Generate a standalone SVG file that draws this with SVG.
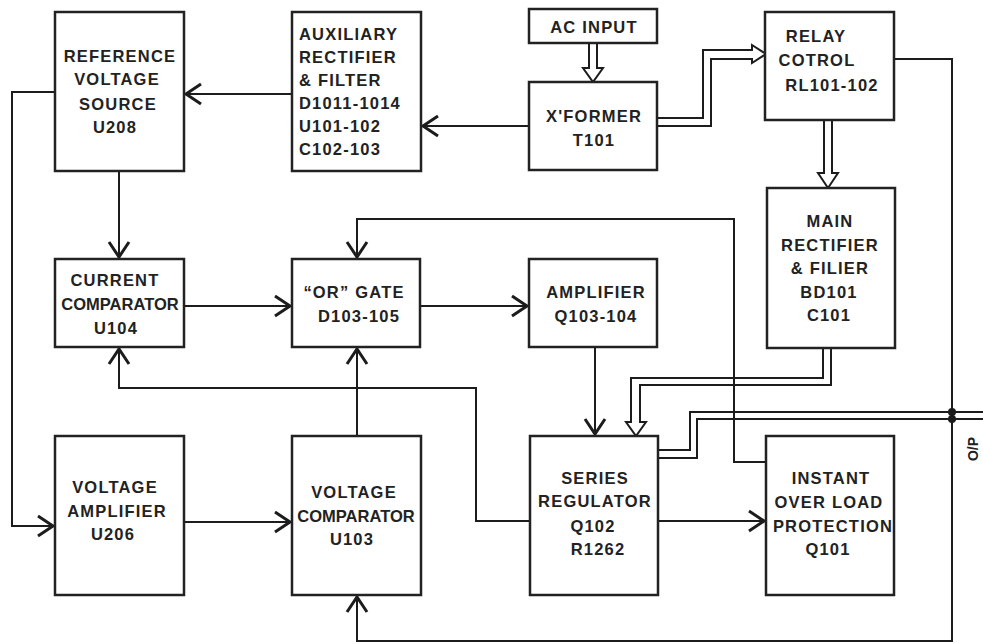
<svg xmlns="http://www.w3.org/2000/svg" width="983" height="644" viewBox="0 0 983 644">
<style>
.box{fill:#fff;stroke:#222;stroke-width:2.5}
.ln{fill:none;stroke:#1c1c1c;stroke-width:2}
.hl{fill:#fff;stroke:#1c1c1c;stroke-width:2;stroke-linejoin:miter}
.t{font-family:"Liberation Sans",Arial,sans-serif;font-weight:bold;font-size:16.5px;fill:#222;letter-spacing:1.2px;text-anchor:middle}
.l{text-anchor:start}
.n{letter-spacing:0}
</style>
<defs>
<marker id="arr" viewBox="-20 -14 24 28" refX="2" refY="0" markerWidth="24" markerHeight="28" markerUnits="userSpaceOnUse" orient="auto">
<path d="M-15,-10 L0,0 L-15,10" fill="none" stroke="#1c1c1c" stroke-width="3"/>
</marker>
</defs>
<rect width="983" height="644" fill="#fff"/>
<g id="connectors">
<path class="ln" d="M292,94 H184" marker-end="url(#arr)"/>
<path class="ln" d="M529,126 H421" marker-end="url(#arr)"/>
<polyline class="hl" points="589,43 589,68 583,68 593,82 603,68 597,68 597,43"/>
<polyline class="hl" points="658,118 703,118 703,50 752,50 752,45 766,54 752,63 752,59 711,59 711,126 658,126"/>
<polyline class="hl" points="824,120 824,173 818,173 828,188 838,173 832,173 832,120"/>
<polyline class="hl" points="823,348 823,378 631,378 631,422 626,422 636,436 646,422 640,422 640,385 831,385 831,348"/>
<path class="ln" d="M658,450 H690 V412 H983"/>
<path class="ln" d="M658,458 H697 V419 H983"/>
<path class="ln" d="M119,171 V259" marker-end="url(#arr)"/>
<path class="ln" d="M55,92 H12 V526 H55" marker-end="url(#arr)"/>
<path class="ln" d="M184,522 H292" marker-end="url(#arr)"/>
<path class="ln" d="M184,306 H292" marker-end="url(#arr)"/>
<path class="ln" d="M420,306 H529" marker-end="url(#arr)"/>
<path class="ln" d="M595,347 V436" marker-end="url(#arr)"/>
<path class="ln" d="M357,436 V347" marker-end="url(#arr)"/>
<path class="ln" d="M530,521 H476 V388 H119 V347" marker-end="url(#arr)"/>
<path class="ln" d="M766,462 H734 V219 H357 V259" marker-end="url(#arr)"/>
<path class="ln" d="M658,521 H766" marker-end="url(#arr)"/>
<path class="ln" d="M893,59 H952 V641 H357 V595" marker-end="url(#arr)"/>
<circle cx="952" cy="412" r="4" fill="#1c1c1c"/>
<circle cx="952" cy="419" r="4" fill="#1c1c1c"/>
</g>
<g id="ref">
<rect class="box" x="55" y="12" width="129" height="159"/>
<text class="t" x="120" y="62">REFERENCE</text>
<text class="t" x="117" y="85">VOLTAGE</text>
<text class="t" x="118" y="110">SOURCE</text>
<text class="t" x="115" y="133">U208</text>
</g>
<g id="aux">
<rect class="box" x="292" y="12" width="129" height="159"/>
<text class="t l" x="299" y="40">AUXILIARY</text>
<text class="t l" x="299" y="63">RECTIFIER</text>
<text class="t l" x="299" y="86">&amp; FILTER</text>
<text class="t l" x="299" y="109">D1011-1014</text>
<text class="t l" x="299" y="132">U101-102</text>
<text class="t l" x="299" y="155">C102-103</text>
</g>
<g id="acinput">
<rect class="box" x="529" y="9" width="128" height="34"/>
<text class="t" x="594" y="33">AC INPUT</text>
</g>
<g id="xformer">
<rect class="box" x="529" y="82" width="128" height="88"/>
<text class="t" x="594" y="122">X'FORMER</text>
<text class="t" x="594" y="146">T101</text>
</g>
<g id="relay">
<rect class="box" x="765" y="12" width="129" height="108"/>
<text class="t" x="816" y="42">RELAY</text>
<text class="t" x="817" y="66">COTROL</text>
<text class="t" x="832" y="91">RL101-102</text>
</g>
<g id="mainrect">
<rect class="box" x="767" y="188" width="128" height="160"/>
<text class="t" x="830" y="227">MAIN</text>
<text class="t" x="830" y="251">RECTIFIER</text>
<text class="t" x="830" y="274">&amp; FILIER</text>
<text class="t" x="829" y="298">BD101</text>
<text class="t" x="829" y="321">C101</text>
</g>
<g id="curcomp">
<rect class="box" x="55" y="259" width="129" height="88"/>
<text class="t" x="115" y="286">CURRENT</text>
<text class="t n" x="120" y="310">COMPARATOR</text>
<text class="t" x="116" y="334">U104</text>
</g>
<g id="orgate">
<rect class="box" x="292" y="259" width="128" height="88"/>
<text class="t" x="354" y="298">“OR” GATE</text>
<text class="t" x="359" y="322">D103-105</text>
</g>
<g id="amp">
<rect class="box" x="529" y="259" width="128" height="88"/>
<text class="t" x="596" y="298">AMPLIFIER</text>
<text class="t" x="596" y="322">Q103-104</text>
</g>
<g id="vamp">
<rect class="box" x="55" y="436" width="129" height="159"/>
<text class="t" x="115" y="493">VOLTAGE</text>
<text class="t" x="117" y="517">AMPLIFIER</text>
<text class="t" x="113" y="540">U206</text>
</g>
<g id="vcomp">
<rect class="box" x="292" y="436" width="129" height="159"/>
<text class="t" x="354" y="498">VOLTAGE</text>
<text class="t n" x="356" y="522">COMPARATOR</text>
<text class="t" x="352" y="545">U103</text>
</g>
<g id="series">
<rect class="box" x="530" y="436" width="128" height="159"/>
<text class="t" x="595" y="484">SERIES</text>
<text class="t" x="595" y="507">REGULATOR</text>
<text class="t" x="593" y="532">Q102</text>
<text class="t" x="598" y="555">R1262</text>
</g>
<g id="instant">
<rect class="box" x="766" y="436" width="128" height="159"/>
<text class="t" x="831" y="484">INSTANT</text>
<text class="t" x="829" y="508">OVER LOAD</text>
<text class="t" x="833" y="532">PROTECTION</text>
<text class="t" x="828" y="555">Q101</text>
</g>
<g id="output">
<text class="t n" transform="translate(978,449) rotate(-90)" style="font-size:14px">O/P</text>
</g>
</svg>
